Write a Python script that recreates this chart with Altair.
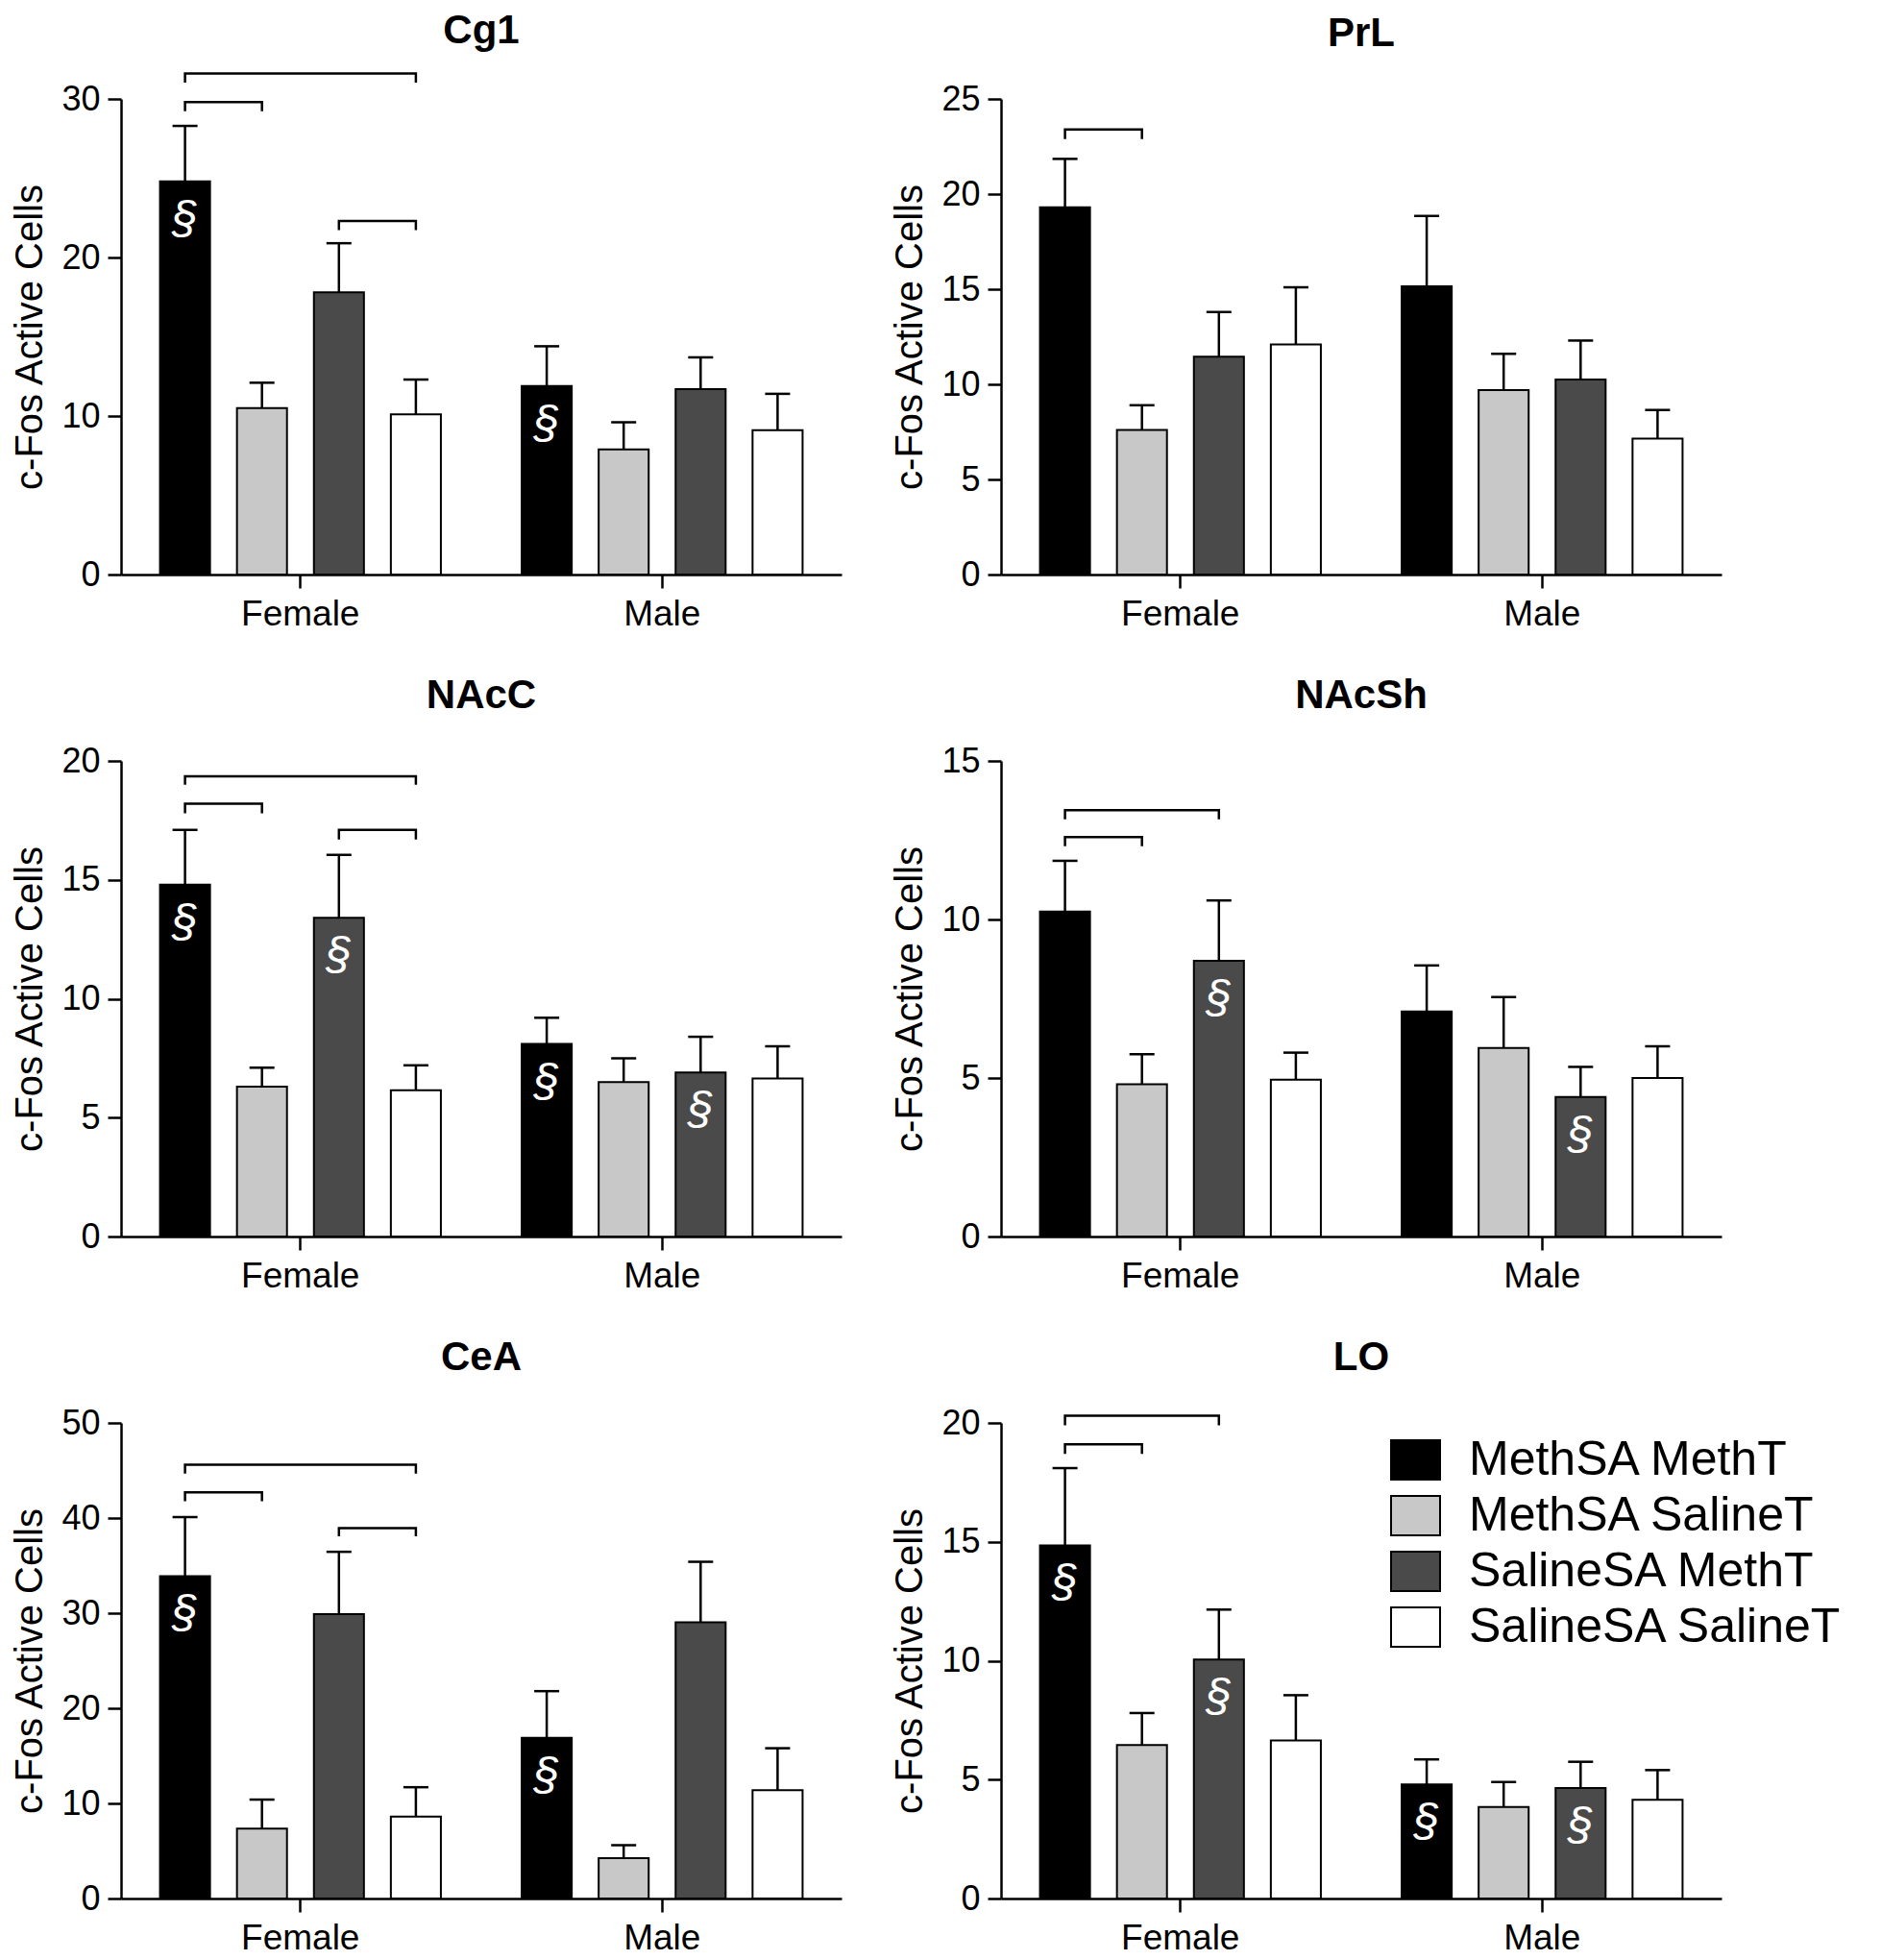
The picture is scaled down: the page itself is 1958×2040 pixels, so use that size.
import altair as alt
import pandas as pd

groups = ["MethSA MethT", "MethSA SalineT", "SalineSA MethT", "SalineSA SalineT"]
sexes = ["Female", "Male"]
fills = ["#000000", "#c8c8c8", "#4a4a4a", "#ffffff"]

regions = ["Cg1", "PrL", "NAcC", "NAcSh", "CeA", "LO"]
y_max = [30, 25, 20, 15, 50, 20]
y_step = [10, 5, 5, 5, 10, 5]

# order of values: Female (MM, MS, SM, SS), Male (MM, MS, SM, SS)
cg1_mean = [24.8, 10.5, 17.8, 10.1, 11.9, 7.9, 11.7, 9.1]
cg1_sem = [3.5, 1.6, 3.1, 2.2, 2.5, 1.7, 2.0, 2.3]
prl_mean = [19.3, 7.6, 11.45, 12.1, 15.15, 9.7, 10.25, 7.15]
prl_sem = [2.55, 1.3, 2.35, 3.0, 3.7, 1.9, 2.05, 1.5]
nacc_mean = [14.8, 6.3, 13.4, 6.15, 8.1, 6.5, 6.9, 6.65]
nacc_sem = [2.3, 0.8, 2.65, 1.05, 1.1, 1.0, 1.5, 1.35]
nacsh_mean = [10.25, 4.8, 8.7, 4.95, 7.1, 5.95, 4.4, 5.0]
nacsh_sem = [1.6, 0.95, 1.9, 0.85, 1.45, 1.6, 0.95, 1.0]
cea_mean = [33.9, 7.35, 29.9, 8.6, 16.9, 4.25, 29.05, 11.4]
cea_sem = [6.2, 3.05, 6.55, 3.1, 4.9, 1.35, 6.35, 4.4]
lo_mean = [14.85, 6.45, 10.05, 6.65, 4.8, 3.85, 4.65, 4.15]
lo_sem = [3.25, 1.35, 2.1, 1.9, 1.05, 1.05, 1.1, 1.25]

# "§" markers (1 = shown)
cg1_mark = [1, 0, 0, 0, 1, 0, 0, 0]
prl_mark = [0, 0, 0, 0, 0, 0, 0, 0]
nacc_mark = [1, 0, 1, 0, 1, 0, 1, 0]
nacsh_mark = [0, 0, 1, 0, 0, 0, 1, 0]
cea_mark = [1, 0, 0, 0, 1, 0, 0, 0]
lo_mark = [1, 0, 1, 0, 1, 0, 1, 0]

# significance brackets within Female group: (from group, to group, top value, end value)
cg1_br = [(0, 3, 31.6, 31.1), (0, 1, 29.8, 29.3), (2, 3, 22.3, 21.8)]
prl_br = [(0, 1, 23.4, 22.95)]
nacc_br = [(0, 3, 19.35, 19.05), (0, 1, 18.2, 17.85), (2, 3, 17.1, 16.75)]
nacsh_br = [(0, 2, 13.45, 13.2), (0, 1, 12.6, 12.35)]
cea_br = [(0, 3, 45.6, 44.8), (0, 1, 42.7, 41.9), (2, 3, 38.95, 38.2)]
lo_br = [(0, 2, 20.3, 19.95), (0, 1, 19.1, 18.75)]

means = [cg1_mean, prl_mean, nacc_mean, nacsh_mean, cea_mean, lo_mean]
sems = [cg1_sem, prl_sem, nacc_sem, nacsh_sem, cea_sem, lo_sem]
marks = [cg1_mark, prl_mark, nacc_mark, nacsh_mark, cea_mark, lo_mark]
brs = [cg1_br, prl_br, nacc_br, nacsh_br, cea_br, lo_br]
title_offsets = [-15, -5, -5, -5, -5, -5]

FONT = "Liberation Sans"


def panel(i):
    rows = []
    for k in range(8):
        rows.append({
            "Sex": sexes[k // 4],
            "Group": groups[k % 4],
            "Mean": means[i][k],
            "Upper": means[i][k] + sems[i][k],
            "Mark": marks[i][k],
        })
    df = pd.DataFrame(rows)
    brows = []
    for b, (a, c, top, end) in enumerate(brs[i]):
        pts = [(a, end), (a, top), (c, top), (c, end)]
        for s, (g, v) in enumerate(pts):
            brows.append({"Sex": "Female", "Group": groups[g], "Val": v, "bid": b, "seq": s})
    bdf = pd.DataFrame(brows)

    x = alt.X("Sex:N",
              scale=alt.Scale(domain=sexes, paddingInner=0.149, paddingOuter=0.0705),
              axis=alt.Axis(title=None, labelAngle=0, labelFontSize=37, labelPadding=9))
    xo = alt.XOffset("Group:N",
                     scale=alt.Scale(domain=groups, paddingInner=0.35, paddingOuter=0.175))
    yscale = alt.Scale(domain=[0, y_max[i]], nice=False)
    yaxis = alt.Axis(values=list(range(0, y_max[i] + 1, y_step[i])),
                     title="c-Fos Active Cells", titleFontSize=40, titleFontWeight="normal",
                     titlePadding=12, labelFontSize=36, labelPadding=8)
    legend = None
    if regions[i] == "LO":
        legend = alt.Legend(title=None, orient="none", legendX=405, legendY=12,
                            symbolType="M-1,-0.8H1V0.8H-1Z", symbolSize=2601,
                            symbolStrokeColor="black", symbolStrokeWidth=2,
                            labelFontSize=50, labelFont=FONT, labelColor="black",
                            labelOffset=29, rowPadding=6, padding=0, labelLimit=600)
    base = alt.Chart(df)
    bars = base.mark_bar(stroke="black", strokeWidth=2, opacity=1).encode(
        x=x, xOffset=xo,
        y=alt.Y("Mean:Q", scale=yscale, axis=yaxis),
        color=alt.Color("Group:N", scale=alt.Scale(domain=groups, range=fills), legend=legend),
    )
    err = base.mark_rule(color="black", strokeWidth=2.5).encode(
        x=x, xOffset=xo, y="Mean:Q", y2="Upper:Q")
    cap = base.mark_tick(color="black", size=26, thickness=2.5, opacity=1).encode(
        x=x, xOffset=xo, y="Upper:Q")
    sect = base.transform_filter("datum.Mark == 1").mark_text(
        text="§", color="white", fontSize=48, font=FONT, fontStyle="italic",
        baseline="middle", dy=40).encode(x=x, xOffset=xo, y="Mean:Q")
    brk = alt.Chart(bdf).mark_line(color="black", strokeWidth=2.5, strokeCap="square").encode(
        x=x, xOffset=xo, y="Val:Q", detail="bid:N", order="seq:Q")
    return alt.layer(bars, err, cap, sect, brk).properties(
        width=750, height=495,
        title=alt.Title(regions[i], fontSize=42, font=FONT, fontWeight="bold",
                        anchor="middle", frame="group", baseline="alphabetic",
                        offset=title_offsets[i], color="black"),
    )


chart = alt.concat(*[panel(i) for i in range(6)], columns=2,
                   spacing={"row": 46, "column": 51}).resolve_scale(
    color="independent").properties(
    padding={"left": 3, "top": 2, "right": 0, "bottom": 0}).configure_view(
    stroke=None).configure_axis(
    grid=False, domainColor="black", domainWidth=2.5, tickColor="black", tickWidth=2.5,
    tickSize=14, labelFont=FONT, labelColor="black", titleFont=FONT, titleColor="black",
)

chart.save("out.html", embed_options={"renderer": "svg", "actions": False})
